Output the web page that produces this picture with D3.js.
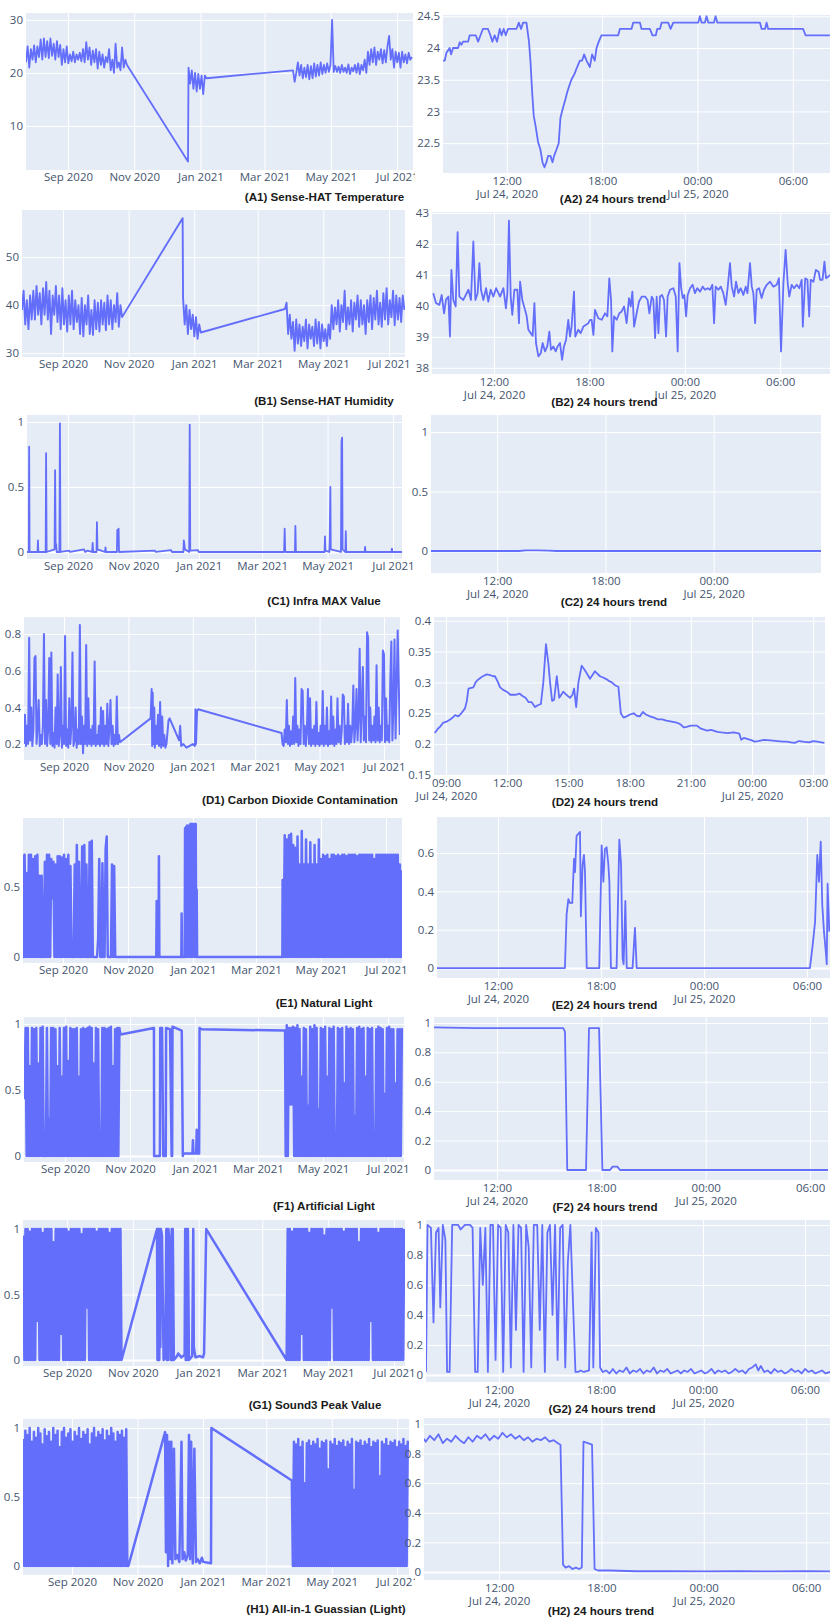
<!DOCTYPE html>
<html>
<head>
<meta charset="utf-8">
<title>Sensor trends</title>
<script src="https://cdn.jsdelivr.net/npm/d3@7"></script>
<style>
  body { margin: 0; background: #fff; }
  svg { display: block; }
</style>
</head>
<body>
<svg id="chart" width="830" height="1617"></svg>
<script>
// all times are counted from Jul 24 2020 00:00 (UTC): days for the long charts, hours for the 24h ones
const ORIGIN = Date.UTC(2020, 6, 24);
const DAY = 864e5, HOUR = 36e5;

const monthTicks = ["2020-09-01", "2020-11-01", "2021-01-01", "2021-03-01", "2021-05-01", "2021-07-01"];
const sixHourTicks = [12, 18, 24, 30];
const threeHourTicks = [9, 12, 15, 18, 21, 24, 27];

// (A1) temperature, every 1.5 days
const tempSummer = [22, 25, 21, 24.5, 22.5, 25.2, 22, 25, 23,
  26.3, 22.5, 26.5, 23, 26, 22.8, 26.5, 23.2, 25.5, 22.5, 26, 23, 25.3,
  21.5, 24.5, 22, 25, 21.8, 23.5, 22.2, 24, 22, 23.5, 22.5,
  23.8, 22.2, 24.5, 22, 25.8, 22.5, 24.8, 21.5, 24.2, 22,
  24.5, 20.8, 24, 21.5, 23.5, 21, 23, 22, 24.5,
  20.5, 22.5, 20, 25.5, 21, 22, 20.5, 24.8, 21, 22.5, 21.5];
const tempDrop = [[149.5, 3.3]];
const tempWinter = [21, 18, 20.5, 17, 20, 16.5, 19.8, 17, 19.5, 16, 19.5, 19];
const tempSpring = [20.5, 18.3, 20, 22, 19.5, 21.5, 19, 21, 19.2, 21.5, 18.8, 21.3, 19, 21.8, 19.3, 21.5,
  19.5, 22, 19.8, 21.5, 20, 21.8, 20.2, 21.5, 30, 20.2, 21.3, 20.2, 21.2, 20, 21.5, 20.2, 21, 20, 21.6,
  19.8, 21, 20.3, 21.5, 20, 21.8, 19.8, 21.5, 20.5, 22.5, 20, 24, 21.5, 24.5, 22, 24.8, 21.5, 24, 22.5,
  24.5, 21.8, 24.3, 22, 25, 27, 22.5, 24.5, 21, 24, 22, 23.8, 21, 24, 22, 23.5, 21.8, 23.8, 22.5, 23];

// (A2) temperature, 24 hours [hour, value]
const tempDay = [[7.99, 23.8], [8.1, 23.8], [8.2, 23.92], [8.41, 24.0], [8.5, 23.9], [8.62, 24.0], [8.94, 24.0],
  [9.04, 24.09], [9.15, 24.05], [9.25, 24.1], [9.57, 24.1], [9.67, 24.2], [10.05, 24.2], [10.2, 24.1], [10.35, 24.2],
  [10.5, 24.3], [10.82, 24.3], [10.97, 24.2], [11.1, 24.1], [11.24, 24.2], [11.39, 24.1], [11.56, 24.3], [11.68, 24.2],
  [11.81, 24.3], [11.94, 24.2], [12.08, 24.3], [12.61, 24.3], [12.76, 24.4], [12.9, 24.3], [13.03, 24.4], [13.24, 24.4],
  [13.4, 24.1], [13.49, 23.8], [13.6, 23.3], [13.7, 22.93], [13.83, 22.75], [13.97, 22.52], [14.12, 22.4], [14.25, 22.2],
  [14.37, 22.12], [14.5, 22.2], [14.6, 22.3], [14.75, 22.3], [14.88, 22.2], [14.98, 22.3], [15.13, 22.4], [15.27, 22.5],
  [15.38, 22.9], [15.48, 23.0], [15.59, 23.1], [15.7, 23.2], [15.8, 23.3], [15.93, 23.4], [16.07, 23.5], [16.28, 23.6],
  [16.43, 23.7], [16.6, 23.8], [16.74, 23.8], [16.87, 23.9], [17.02, 23.8], [17.23, 23.7], [17.37, 23.9], [17.54, 23.8],
  [17.65, 24.0], [17.79, 24.1], [17.96, 24.2], [19.01, 24.2], [19.12, 24.3], [19.85, 24.3], [19.96, 24.4], [20.38, 24.4],
  [20.48, 24.3], [21.01, 24.3], [21.17, 24.2], [21.38, 24.2], [21.47, 24.3], [21.64, 24.3], [21.75, 24.4], [22.16, 24.4],
  [22.31, 24.3], [22.48, 24.4], [24.05, 24.4], [24.15, 24.5], [24.26, 24.4], [24.47, 24.4], [24.57, 24.5], [24.68, 24.4],
  [25.04, 24.4], [25.14, 24.5], [25.25, 24.4], [27.93, 24.4], [28.04, 24.3], [28.25, 24.3], [28.35, 24.4], [28.45, 24.3],
  [30.65, 24.3], [30.8, 24.2], [32.33, 24.2]];

// (B1) humidity, every 1.5 days
const humSummer = [39, 43, 36, 41, 35, 42, 37,
  43, 37, 44, 38, 42.5, 36, 43.5, 38, 44.8, 37, 43, 34, 42, 38, 44, 36.5, 42,
  35, 43.5, 36, 41, 34.5, 42, 36, 43, 35, 41, 36.5, 40, 34,
  41.5, 33.5, 40, 36, 42, 34, 39, 33.8, 41, 35, 40.5,
  34.5, 41, 36, 40.5, 34.8, 42, 36, 41, 35, 40, 36.5, 42.5, 35.5, 40, 37.5];
const humPeak = [[150.2, 58.1]];
const humWinter = [41.5, 36, 40, 34, 39, 35, 38, 33.5, 37.5, 33, 36, 34.3];
const humSpring = [39.2, 40.5, 34, 38, 33,
  36.5, 30.5, 37, 32, 36, 31.5, 35.5, 32.5, 37, 31, 36, 33, 35.5, 31.5, 37, 32, 36.5, 31, 36, 32.5, 35,
  31.5, 36, 33,
  40, 35, 39.5, 36, 41, 34.5, 40, 36.5, 43, 35, 39.5, 36, 41, 34.5, 40.5, 37, 42, 35.5, 41, 36, 40, 34,
  41, 36.5, 42, 35, 41.5, 37, 43, 36, 40.5, 35.5, 42.5, 37, 43.5, 36, 41, 37.5, 43, 35.8, 42, 37, 41.5, 36.5, 42, 39];

// (B2) humidity, 24 hours
const humDay = [[8.18, 40.41], [8.35, 40.09], [8.56, 40.03], [8.71, 40.35], [8.86, 39.76], [8.98, 40.2], [9.13, 40.3],
  [9.23, 39.01], [9.32, 41.16], [9.44, 40.19], [9.59, 39.98], [9.71, 42.38], [9.82, 40.3], [10.07, 40.19], [10.39, 40.52],
  [10.55, 40.19], [10.7, 42.08], [10.83, 40.19], [10.97, 40.41], [11.08, 41.38], [11.18, 40.52], [11.33, 40.19],
  [11.5, 40.57], [11.64, 40.14], [11.79, 40.52], [11.96, 40.3], [12.13, 40.57], [12.38, 40.3], [12.59, 40.57],
  [12.75, 39.92], [12.84, 40.41], [12.94, 42.75], [13.05, 40.3], [13.15, 39.71], [13.28, 40.52], [13.47, 40.52],
  [13.57, 39.44], [13.64, 40.78], [13.78, 40.19], [13.95, 39.87], [14.05, 39.68], [14.16, 39.23], [14.31, 39.12],
  [14.43, 39.03], [14.54, 40.09], [14.64, 38.8], [14.79, 38.37], [14.94, 38.47], [15.06, 38.8], [15.21, 38.53],
  [15.35, 38.69], [15.48, 39.17], [15.58, 38.58], [15.73, 38.69], [15.88, 38.53], [16.0, 38.69], [16.15, 38.8],
  [16.28, 38.26], [16.4, 38.69], [16.53, 38.9], [16.67, 39.55], [16.78, 39.01], [16.88, 39.33], [17.03, 40.46],
  [17.11, 39.01], [17.3, 39.23], [17.45, 39.12], [17.62, 39.33], [17.79, 39.39], [17.93, 39.44], [18.04, 39.55],
  [18.14, 39.55], [18.25, 39.06], [18.35, 39.87], [18.56, 39.6], [18.77, 39.55], [18.98, 39.76], [19.13, 39.66],
  [19.25, 40.89], [19.36, 40.19], [19.44, 38.53], [19.55, 39.66], [19.72, 39.55], [19.88, 39.76], [20.03, 39.82],
  [20.18, 39.98], [20.34, 39.44], [20.49, 40.25], [20.6, 39.98], [20.7, 40.46], [20.81, 39.33], [20.97, 39.76],
  [21.12, 40.14], [21.29, 40.3], [21.5, 40.3], [21.66, 40.19], [21.77, 39.76], [21.92, 40.3], [22.02, 40.19],
  [22.13, 38.96], [22.23, 40.3], [22.34, 39.12], [22.44, 40.3], [22.57, 40.35], [22.69, 40.19], [22.82, 39.01],
  [22.92, 40.3], [23.07, 40.52], [23.28, 40.57], [23.43, 40.3], [23.55, 38.53], [23.66, 41.38], [23.77, 40.57],
  [23.87, 40.25], [23.97, 40.35], [24.08, 39.66], [24.18, 40.35], [24.33, 40.57], [24.49, 40.68], [24.64, 40.41],
  [24.78, 40.57], [24.96, 40.46], [25.12, 40.62], [25.27, 40.52], [25.44, 40.57], [25.58, 40.52], [25.73, 40.68],
  [25.84, 39.44], [25.94, 40.62], [26.11, 40.52], [26.26, 40.62], [26.42, 40.41], [26.57, 40.03], [26.7, 40.62],
  [26.84, 41.38], [26.95, 40.62], [27.1, 40.3], [27.22, 40.78], [27.37, 40.41], [27.51, 40.57], [27.68, 40.35],
  [27.83, 40.62], [27.94, 40.41], [28.1, 41.38], [28.21, 40.62], [28.31, 40.41], [28.42, 39.44], [28.52, 40.52],
  [28.67, 40.57], [28.83, 40.25], [28.98, 40.52], [29.15, 40.68], [29.36, 40.78], [29.57, 40.62], [29.78, 40.68],
  [29.92, 40.89], [30.05, 38.53], [30.2, 40.73], [30.34, 41.81], [30.47, 40.73], [30.57, 40.3], [30.72, 40.68],
  [30.87, 40.57], [31.04, 40.68], [31.2, 40.57], [31.35, 40.84], [31.42, 39.33], [31.57, 40.89], [31.71, 40.84],
  [31.82, 39.66], [31.92, 40.84], [32.09, 40.78], [32.24, 41.16], [32.41, 41.1], [32.51, 40.84], [32.66, 40.84],
  [32.78, 41.43], [32.88, 40.89], [33.03, 40.95], [33.14, 41.0]];

// (C1) infra max value [day, value]
const infraYear = [[0, 0], [2.5, 0], [2.8, 0.81], [3.2, 0], [10.6, 0], [11, 0.09], [11.4, 0], [18.2, 0], [18.6, 0.76],
  [19.1, 0], [26.5, 0.02], [27, 0.63], [27.5, 0.05], [28, 0.06], [28.5, 0], [31, 0], [31.5, 0.99], [32, 0], [40, 0.01],
  [41, 0], [54, 0.02], [55, 0], [57, 0.01], [61.5, 0], [62, 0.07], [62.5, 0], [65.6, 0], [66, 0.23], [66.5, 0.02],
  [70, 0.01], [73.5, 0], [74, 0.035], [74.5, 0], [84.6, 0], [85, 0.17], [85.8, 0.05], [86.2, 0.18], [86.6, 0],
  [120, 0.01], [121, 0], [135, 0.015], [136, 0], [146.6, 0], [147, 0.09], [147.5, 0.06], [148, 0.02], [152, 0],
  [152.5, 0.98], [153, 0.01], [160, 0.015], [161, 0], [240.5, 0], [241, 0.18], [241.5, 0.01], [242, 0], [250.6, 0],
  [251, 0.2], [251.5, 0], [278.2, 0], [278.6, 0.12], [279, 0.01], [282.6, 0], [283, 0.08], [283.6, 0.5], [284, 0.02],
  [293.5, 0], [294, 0.85], [294.6, 0.88], [295, 0.02], [297.6, 0], [298, 0.16], [298.4, 0], [315.6, 0], [316, 0.04],
  [316.4, 0], [340.6, 0], [341, 0.025], [341.4, 0], [350.4, 0]];
// (C2) infra, 24 hours
const infraDay = [[8.3, 0], [13.2, 0], [13.6, 0.006], [14.2, 0.005], [14.8, 0.003], [15.3, 0], [30, 0]];

// (D1) carbon dioxide, daily
const co2Summer = [0.2, 0.36, 0.19, 0.3, 0.2, 0.78, 0.22, 0.4, 0.19, 0.28,
  0.67, 0.68, 0.2, 0.3, 0.44, 0.19, 0.25, 0.2, 0.3, 0.8,
  0.2, 0.44, 0.19, 0.28, 0.67, 0.2, 0.7, 0.19, 0.26, 0.18,
  0.4, 0.2, 0.58, 0.19, 0.25, 0.62, 0.18, 0.3, 0.2, 0.79,
  0.19, 0.28, 0.18, 0.45, 0.2, 0.3, 0.7, 0.19, 0.22, 0.4,
  0.18, 0.28, 0.2, 0.85, 0.2, 0.35, 0.15, 0.3, 0.2, 0.74,
  0.19, 0.45, 0.2, 0.28, 0.19, 0.3, 0.2, 0.65, 0.19, 0.25,
  0.2, 0.3, 0.19, 0.4, 0.2, 0.38, 0.19, 0.3, 0.2, 0.42,
  0.19, 0.28, 0.44, 0.2, 0.3, 0.19, 0.25, 0.2, 0.46, 0.2,
  0.25, 0.21];
const co2Winter = [[121, 0.34], [122, 0.5], [122.5, 0.19], [123, 0.48], [123.5, 0.2], [124.5, 0.4], [125, 0.18],
  [126, 0.3], [127, 0.2], [128, 0.36], [129, 0.19], [130, 0.43], [131, 0.18], [132, 0.35], [133, 0.19], [134, 0.25],
  [135, 0.18], [136, 0.2], [138, 0.33], [139, 0.34], [148, 0.22], [149, 0.3], [150, 0.19], [152, 0.2], [155, 0.18],
  [158, 0.19], [161, 0.2], [163, 0.19], [163.5, 0.39], [164, 0.2], [165, 0.38], [166, 0.39]];
const co2Spring = [0.26, 0.2, 0.19, 0.28, 0.21, 0.44, 0.2, 0.3, 0.19, 0.27,
  0.2, 0.35, 0.2, 0.56, 0.21, 0.3, 0.19, 0.28, 0.2, 0.5,
  0.49, 0.2, 0.3, 0.19, 0.27, 0.5, 0.2, 0.45, 0.19, 0.28,
  0.2, 0.3, 0.19, 0.43, 0.2, 0.26, 0.19, 0.3, 0.2, 0.49,
  0.19, 0.3, 0.2, 0.4, 0.19, 0.27, 0.2, 0.46, 0.2, 0.35,
  0.19, 0.28, 0.2, 0.45, 0.21, 0.3, 0.2, 0.27, 0.47, 0.46,
  0.2, 0.3, 0.21, 0.42, 0.2, 0.3, 0.21, 0.29, 0.52, 0.21,
  0.3, 0.5, 0.22, 0.35, 0.72, 0.21, 0.4, 0.62, 0.22, 0.35,
  0.21, 0.81, 0.78, 0.22, 0.4, 0.21, 0.3, 0.22, 0.35, 0.21,
  0.63, 0.22, 0.4, 0.21, 0.3, 0.22, 0.71, 0.69, 0.21, 0.45,
  0.22, 0.3, 0.21, 0.55, 0.76, 0.22, 0.4, 0.77, 0.23, 0.5,
  0.82, 0.54, 0.25];
// (D2) carbon dioxide, 24 hours
const co2Day = [[8.45, 0.218], [8.6, 0.225], [8.7, 0.228], [8.87, 0.235], [9.0, 0.236], [9.2, 0.24], [9.36, 0.244],
  [9.45, 0.247], [9.6, 0.245], [9.75, 0.25], [9.93, 0.258], [10.02, 0.27], [10.1, 0.29], [10.34, 0.292], [10.45, 0.3],
  [10.55, 0.304], [10.8, 0.31], [11.0, 0.313], [11.16, 0.312], [11.3, 0.31], [11.4, 0.31], [11.55, 0.3], [11.65, 0.292],
  [11.8, 0.288], [11.98, 0.285], [12.15, 0.28], [12.4, 0.28], [12.6, 0.282], [12.75, 0.278], [12.9, 0.275],
  [13.05, 0.268], [13.2, 0.268], [13.36, 0.26], [13.5, 0.263], [13.65, 0.265], [13.77, 0.3], [13.9, 0.362],
  [14.02, 0.33], [14.1, 0.3], [14.2, 0.27], [14.3, 0.272], [14.43, 0.31], [14.55, 0.275], [14.75, 0.285], [14.9, 0.28],
  [15.08, 0.275], [15.2, 0.28], [15.28, 0.29], [15.38, 0.26], [15.49, 0.3], [15.65, 0.327], [15.8, 0.32],
  [16.06, 0.306], [16.3, 0.318], [16.55, 0.31], [16.7, 0.308], [16.88, 0.305], [17.0, 0.302], [17.13, 0.3],
  [17.3, 0.295], [17.45, 0.293], [17.57, 0.25], [17.7, 0.243], [17.85, 0.245], [18.02, 0.248], [18.2, 0.25],
  [18.35, 0.246], [18.5, 0.245], [18.65, 0.252], [18.8, 0.248], [19.0, 0.245], [19.2, 0.243], [19.4, 0.24],
  [19.6, 0.24], [19.8, 0.238], [20.0, 0.237], [20.3, 0.235], [20.5, 0.232], [20.65, 0.227], [20.8, 0.228], [21.0, 0.23],
  [21.3, 0.23], [21.5, 0.225], [21.8, 0.222], [22.0, 0.223], [22.3, 0.22], [22.5, 0.219], [22.8, 0.218], [23.1, 0.219],
  [23.38, 0.217], [23.47, 0.207], [23.6, 0.21], [23.8, 0.208], [24.0, 0.206], [24.13, 0.204], [24.3, 0.205],
  [24.6, 0.207], [24.9, 0.206], [25.26, 0.205], [25.5, 0.204], [25.7, 0.204], [25.9, 0.203], [26.1, 0.202],
  [26.3, 0.205], [26.5, 0.204], [26.8, 0.203], [27.0, 0.205], [27.2, 0.204], [27.4, 0.203], [27.55, 0.202]];

// (E1) natural light, daily
const naturalSummer = [0.73, 0, 0.73, 0, 0.6, 0, 0.73, 0, 0.73, 0,
  0.7, 0, 0.72, 0, 0.73, 0, 0.58, 0, 0.58, 0,
  0, 0.68, 0, 0.73, 0, 0.73, 0, 0.7, 0.42, 0.68,
  0, 0.66, 0, 0.72, 0, 0.72, 0, 0.71, 0, 0.73,
  0, 0.7, 0, 0.73, 0, 0.65, 0, 0, 0, 0.66,
  0, 0.8, 0, 0.68, 0, 0, 0.79, 0, 0.8, 0,
  0.66, 0, 0, 0.82, 0, 0.83, 0, 0, 0, 0,
  0, 0.13, 0.7, 0, 0, 0.67, 0, 0, 0.77, 0.86,
  0, 0, 0, 0, 0.66, 0, 0.65, 0];
const naturalWinter = [[126.5, 0], [126.9, 0.4], [127.3, 0], [128.6, 0], [129, 0.72], [129.4, 0], [150, 0],
  [150.3, 0.31], [150.7, 0], [153.2, 0], [153.5, 0.92], [154, 0], [154.5, 0.93], [155, 0.5], [155.5, 0.94], [156, 0],
  [156.5, 0.93], [157, 0.62], [157.5, 0.94], [158, 0], [158.5, 0.95], [159, 0.7], [159.5, 0.95], [160, 0],
  [160.5, 0.95], [161, 0.6], [161.5, 0.95], [162, 0], [162.5, 0.95], [163, 0.3], [163.5, 0.95], [164, 0],
  [164.4, 0.48], [164.8, 0], [243, 0], [244.8, 0]];
const naturalSpring = [0.55, 0, 0.87, 0, 0.84, 0, 0.87, 0, 0.88, 0,
  0.8, 0, 0.78, 0, 0.86, 0, 0.66, 0, 0.9, 0,
  0.66, 0, 0.84, 0, 0.66, 0, 0.82, 0, 0.66, 0,
  0.8, 0, 0.66, 0, 0.84, 0, 0.7, 0, 0.73, 0,
  0.72, 0, 0.73, 0, 0.7, 0, 0.73, 0, 0.73, 0,
  0.72, 0, 0.73, 0, 0.72, 0, 0.73, 0, 0.73, 0,
  0.72, 0, 0.73, 0, 0.73, 0, 0.73, 0, 0.73, 0,
  0.72, 0, 0.73, 0, 0.73, 0, 0.73, 0, 0.73, 0,
  0.73, 0, 0.73, 0, 0.73, 0, 0.7, 0, 0.73, 0,
  0.73, 0, 0.73, 0, 0.73, 0, 0.73, 0, 0.73, 0,
  0.73, 0, 0.73, 0, 0.73, 0, 0.73, 0, 0.73, 0,
  0.66, 0, 0.62];
// (E2) natural light, 24 hours
const naturalDay = [[8.45, 0], [15.9, 0], [16.0, 0.28], [16.1, 0.36], [16.19, 0.34], [16.33, 0.34], [16.43, 0.57],
  [16.49, 0.5], [16.58, 0.69], [16.68, 0.7], [16.78, 0.71], [16.83, 0.27], [16.93, 0.54], [17.01, 0.59], [17.07, 0.5],
  [17.17, 0], [17.9, 0], [18.04, 0.64], [18.14, 0.45], [18.23, 0.62], [18.33, 0.63], [18.43, 0.54], [18.49, 0.45],
  [18.58, 0], [18.91, 0], [19.07, 0.67], [19.17, 0.54], [19.26, 0.05], [19.32, 0.02], [19.42, 0.35], [19.5, 0],
  [19.84, 0], [19.98, 0.21], [20.08, 0], [30.17, 0], [30.33, 0.12], [30.47, 0.24], [30.6, 0.59], [30.7, 0.45],
  [30.8, 0.66], [30.89, 0.33], [30.99, 0.19], [31.09, 0.09], [31.15, 0.02], [31.2, 0.44], [31.3, 0.19]];

// (F1) artificial light, daily
const artSummer = [0.43, 0.97, 0, 0.97, 0, 0.68, 0, 0.97, 0, 0.96,
  0, 0.97, 0, 0.7, 0, 0.97, 0, 0.98, 0, 0,
  0, 0.97, 0, 0.28, 0, 0.97, 0, 0.97, 0, 0.96,
  0, 0.68, 0, 0.97, 0, 0.6, 0, 0.97, 0, 0.98,
  0, 0.72, 0, 0.97, 0, 0.96, 0, 0.96, 0, 0.97,
  0, 0.6, 0, 0.96, 0, 0.97, 0, 0.96, 0, 0.97,
  0, 0.98, 0, 0.97, 0, 0.7, 0, 0.97, 0, 0.96,
  0, 0.18, 0, 0.97, 0, 0.97, 0, 0.96, 0, 0.97,
  0, 0.98, 0, 0.68, 0, 0.96, 0, 0.97, 0, 0.97,
  0.92];
const artWinter = [[122.4, 0.97], [122.6, 0], [128, 0], [128.3, 0.97], [130, 0.97], [131.2, 0], [133.5, 0],
  [133.8, 0.97], [137.5, 0.96], [139, 0], [139.5, 0], [139.8, 0.98], [148.5, 0.95], [149.5, 0], [150, 0.02],
  [158.5, 0.02], [159, 0.12], [159.5, 0.02], [162, 0.02], [162.5, 0.2], [163, 0.02], [164.8, 0.02], [165.2, 0.97],
  [167.2, 0.96], [245.4, 0.95]];
const artSpring = [0, 0.99, 0, 0.97, 0.39, 0.97, 0.39, 0.98, 0, 0.97,
  0, 0.99, 0, 0.96, 0, 0.6, 0, 0.97, 0, 0.96,
  0, 0.38, 0, 0.98, 0, 0.96, 0, 0.99, 0, 0.97,
  0, 0.35, 0, 0.97, 0, 0.96, 0, 0.98, 0, 0.6,
  0, 0.97, 0, 0.96, 0, 0.98, 0, 0.1, 0, 0.97,
  0, 0.96, 0, 0.97, 0, 0.55, 0, 0.98, 0, 0.96,
  0, 0.97, 0, 0.96, 0, 0.3, 0, 0.97, 0, 0.98,
  0, 0.96, 0, 0.97, 0, 0.6, 0, 0.97, 0, 0.96,
  0, 0.97, 0, 0.15, 0, 0.96, 0, 0.98, 0, 0.97,
  0, 0.96, 0, 0.47, 0, 0.97, 0, 0.98, 0, 0.96,
  0, 0.96, 0, 0.55, 0, 0.96, 0, 0.96, 0, 0.96,
  0.96];
// (F2) artificial light, 24 hours
const artDay = [[8.38, 0.97], [10.83, 0.964], [15.81, 0.964], [15.91, 0.94], [16.04, 0], [17.12, 0], [17.29, 0.964],
  [17.87, 0.964], [18.06, 0], [18.5, 0], [18.65, 0.023], [18.92, 0.023], [19.07, 0], [31.03, 0]];

// (G1) sound peak, daily
const soundSummer = [0.95, 0, 1, 0, 1, 0, 0.98, 0, 1, 0,
  1, 0, 1, 0.3, 1, 0, 1, 0, 0.97, 0,
  1, 0, 1, 0, 1, 0, 1, 0, 0.9, 0,
  1, 0, 1, 0, 1, 0.2, 1, 0, 1, 0,
  1, 0, 0.98, 0, 1, 0, 1, 0, 1, 0,
  1, 0, 1, 0, 0.96, 0, 1, 0, 1, 0.4,
  1, 0, 1, 0, 1, 0, 1, 0, 0.98, 0,
  1, 0, 1, 0, 1, 0, 1, 0, 1, 0,
  0.97, 0, 1, 0, 1, 0, 1, 0, 1, 0,
  1, 0];
const soundWinter = [[122.4, 1], [122.8, 0], [123.2, 1], [123.6, 0], [124, 1], [124.5, 0], [125, 1], [125.5, 0.1],
  [126, 1], [127, 0.95], [128.5, 0], [130, 0.02], [131, 1], [131.5, 0], [132, 1], [132.5, 0], [133, 1], [134, 0.9],
  [135, 0], [136, 1], [136.5, 0], [137, 1], [138, 0], [141, 0.03], [142, 0.05], [145, 0.02], [148, 0.04], [148.5, 1],
  [149, 0], [149.5, 1], [150, 0], [151, 1], [152, 0], [154, 0.02], [155, 0.03], [156, 1], [156.5, 0.1], [158, 0.02],
  [162, 0.03], [165, 0.02], [166, 0.05], [168, 1]];
const soundSpring = [0, 1, 0, 1, 0, 0.98, 0, 1, 0, 1,
  0, 1, 0, 1, 0.2, 1, 0, 1, 0, 1,
  0, 0.97, 0, 1, 0, 1, 0, 1, 0, 1,
  0, 1, 0, 1, 0, 0.95, 0, 1, 0, 1,
  0, 1, 0.4, 1, 0, 1, 0, 1, 0, 1,
  0, 1, 0, 0.98, 0, 1, 0, 1, 0, 1,
  0, 1, 0, 1, 0, 1, 0, 0.9, 0, 1,
  0, 1, 0, 1, 0, 1, 0, 1, 0.3, 1,
  0, 1, 0, 1, 0, 0.97, 0, 1, 0, 1,
  0, 1, 0, 1, 0, 1, 0, 1, 0, 1,
  0, 1, 0, 1, 0, 1, 0, 1, 0, 1];
// (G2) sound peak, 24 hours
const soundDay = [[7.71, 0.02], [7.8, 1], [8.0, 0.98], [8.15, 0.35], [8.3, 0.95], [8.45, 0.98], [8.55, 0.45], [8.7, 1],
  [8.85, 0.9], [8.95, 0.02], [9.1, 0.02], [9.25, 1], [9.6, 1], [9.75, 0.97], [10.0, 1], [10.3, 1], [10.45, 0.98],
  [10.6, 0.02], [10.75, 0.02], [10.9, 0.98], [11.05, 0.6], [11.2, 0.98], [11.35, 0.02], [11.5, 1], [11.65, 1],
  [11.8, 0.1], [11.95, 1], [12.1, 0.98], [12.25, 0.02], [12.4, 1], [12.55, 0.95], [12.7, 0.05], [12.85, 1], [13.0, 0.3],
  [13.15, 1], [13.3, 0.98], [13.45, 0.02], [13.6, 1], [13.75, 0.85], [13.9, 0.05], [14.05, 1], [14.25, 1], [14.4, 0.3],
  [14.55, 1], [14.7, 0.02], [14.85, 0.95], [15.0, 1], [15.15, 0.4], [15.3, 1], [15.45, 0.1], [15.6, 0.98], [15.75, 1],
  [15.9, 0.05], [16.05, 0.75], [16.2, 1], [16.35, 0.5], [16.5, 0.02], [16.65, 0.02], [16.8, 0.03], [17.0, 0.02],
  [17.3, 0.03], [17.45, 0.95], [17.55, 0.05], [17.7, 0.98], [17.85, 0.95], [17.95, 0.05], [18.1, 0.02], [18.3, 0.03],
  [18.5, 0.01], [18.7, 0.04], [18.9, 0.01], [19.1, 0.03], [19.3, 0.02], [19.5, 0.05], [19.7, 0.01], [19.9, 0.03],
  [20.1, 0.02], [20.3, 0.04], [20.5, 0.01], [20.7, 0.03], [20.9, 0.02], [21.1, 0.05], [21.3, 0.01], [21.5, 0.03],
  [21.7, 0.02], [21.9, 0.04], [22.1, 0.01], [22.3, 0.02], [22.5, 0.03], [22.7, 0.01], [22.9, 0.03], [23.1, 0.02],
  [23.3, 0.04], [23.5, 0.01], [23.7, 0.02], [23.9, 0.03], [24.1, 0.01], [24.3, 0.02], [24.5, 0.04], [24.7, 0.01],
  [24.9, 0.03], [25.1, 0.02], [25.3, 0.03], [25.5, 0.01], [25.7, 0.02], [25.9, 0.04], [26.1, 0.02], [26.3, 0.03],
  [26.5, 0.01], [26.7, 0.04], [26.9, 0.05], [27.1, 0.07], [27.25, 0.03], [27.4, 0.06], [27.6, 0.02], [27.8, 0.03],
  [28.0, 0.01], [28.2, 0.04], [28.4, 0.02], [28.6, 0.03], [28.8, 0.01], [29.0, 0.02], [29.2, 0.04], [29.4, 0.02],
  [29.6, 0.03], [29.8, 0.01], [30.0, 0.04], [30.2, 0.02], [30.4, 0.03], [30.6, 0.01], [30.8, 0.02], [31.0, 0.03],
  [31.2, 0.01], [31.47, 0.02]];

// (H1) all-in-1 gaussian (light), daily
const gaussSummer = [0.92, 0, 0.98, 0, 0.95, 0, 1, 0, 0.9, 0,
  0.97, 0, 0.93, 0, 1, 0, 0.96, 0, 0.88, 0,
  0.99, 0, 0.94, 0, 0.97, 0, 0.9, 0, 1, 0,
  0.95, 0, 0.98, 0, 0.86, 0, 0.97, 0, 1, 0,
  0.93, 0, 0.96, 0, 0.99, 0, 0.9, 0, 0.97, 0,
  0.94, 0, 1, 0, 0.92, 0, 0.97, 0, 0.95, 0,
  0.99, 0, 0.88, 0, 0.96, 0, 1, 0, 0.93, 0,
  0.97, 0, 0.95, 0, 0.99, 0, 0.91, 0, 0.98, 0,
  0.94, 0, 1, 0, 0.96, 0, 0.9, 0, 0.97, 0,
  0.95, 0, 0.98, 0, 0.93, 0, 0.99, 0, 0];
const gaussWinter = [[125.7, 0.97], [126.5, 0.1], [127.5, 0.95], [128.5, 0], [129.5, 0.9], [130.4, 0.05], [131.5, 0.9],
  [132.5, 0.02], [134, 0.85], [135.3, 0.05], [137, 0.08], [139, 0.03], [141, 0.9], [142, 0.05], [143.5, 0.1],
  [145, 0.04], [146.8, 0.08], [148, 0.95], [149, 0.05], [150, 0.9], [151.5, 0.02], [153, 0.85], [154.5, 0.03],
  [156, 0.05], [158, 0.02], [160, 0.06], [161.2, 0.03], [168.5, 0.02], [168.9, 1.0]];
const gaussSpring = [0.62, 0, 0.9, 0, 0.88, 0, 0.92, 0, 0.86, 0,
  0.9, 0, 0.6, 0, 0.89, 0, 0.91, 0, 0.87, 0,
  0.9, 0, 0.88, 0, 0.92, 0, 0.85, 0, 0.9, 0,
  0.89, 0, 0.91, 0, 0.7, 0, 0.9, 0, 0.88, 0,
  0.92, 0, 0.87, 0, 0.9, 0, 0.89, 0, 0.91, 0,
  0.86, 0, 0.9, 0, 0.88, 0, 0.92, 0, 0.55, 0,
  0.9, 0, 0.89, 0, 0.91, 0, 0.87, 0, 0.9, 0,
  0.88, 0, 0.92, 0, 0.86, 0, 0.9, 0, 0.89, 0,
  0.91, 0, 0.65, 0, 0.9, 0, 0.88, 0, 0.92, 0,
  0.87, 0, 0.9, 0, 0.89, 0, 0.91, 0, 0.86, 0,
  0.9, 0, 0.88, 0, 0.92, 0, 0.87, 0, 0.9, 0.88];
// (H2) gaussian, 24 hours
const gaussDay = [[7.6, 0.9], [7.7, 0.88], [7.95, 0.92], [8.2, 0.89], [8.45, 0.93], [8.7, 0.87], [8.95, 0.9], [9.2, 0.88],
  [9.45, 0.92], [9.7, 0.89], [9.95, 0.87], [10.2, 0.91], [10.45, 0.88], [10.7, 0.92], [10.95, 0.9], [11.2, 0.93],
  [11.45, 0.89], [11.7, 0.92], [11.95, 0.9], [12.2, 0.94], [12.45, 0.91], [12.7, 0.93], [12.95, 0.9], [13.2, 0.92],
  [13.45, 0.89], [13.7, 0.91], [13.95, 0.88], [14.2, 0.9], [14.45, 0.89], [14.7, 0.91], [14.95, 0.88], [15.2, 0.89],
  [15.45, 0.87], [15.6, 0.86], [15.75, 0.05], [15.9, 0.03], [16.1, 0.04], [16.3, 0.02], [16.5, 0.03], [16.7, 0.02],
  [16.85, 0.03], [16.95, 0.88], [17.2, 0.87], [17.45, 0.86], [17.6, 0.02], [17.8, 0.01], [18.5, 0.01], [20, 0.005],
  [22, 0.005], [24, 0.004], [26, 0.005], [28, 0.004], [30, 0.005], [31.45, 0.004]];

// ---- helpers ----
function run(start, step, values) {
  return values.map((v, i) => ({ t: new Date(ORIGIN + (start + i * step) * DAY), v: v }));
}
function dayPairs(pairs) {
  return pairs.map(p => ({ t: new Date(ORIGIN + p[0] * DAY), v: p[1] }));
}
function hourPairs(pairs) {
  return pairs.map(p => ({ t: new Date(ORIGIN + p[0] * HOUR), v: p[1] }));
}

// box = [left, right, top, bottom] of the plot area; lw = trace width
const panels = [
  { id: "A1", box: [26, 413, 13, 170], xd: [0.33, 356.7], yd: [1.7, 31.3], yt: [10, 20, 30], lw: 1.8,
    data: [].concat(run(0.33, 1.5, tempSummer), dayPairs(tempDrop), run(150, 1.5, tempWinter), run(246.2, 1.5, tempSpring)),
    title: "(A1) Sense-HAT Temperature", tc: [324.5, 196] },
  { id: "A2", box: [443, 830, 15, 173], xh: [7.99, 32.34], yd: [22.03, 24.52], yt: [22.5, 23, 23.5, 24, 24.5], lw: 1.8,
    hticks: sixHourTicks, dateAt: [12, 24], data: hourPairs(tempDay), title: "(A2) 24 hours trend", tc: [613, 198] },
  { id: "B1", box: [22, 405, 210, 357], xd: [0.9, 356.9], yd: [29.2, 59.8], yt: [30, 40, 50], lw: 1.9,
    data: [].concat(run(0.9, 1.5, humSummer), dayPairs(humPeak), run(150.6, 1.5, humWinter), run(245.3, 1.5, humSpring)),
    title: "(B1) Sense-HAT Humidity", tc: [324, 400] },
  { id: "B2", box: [432, 830, 212, 374], xh: [8.1, 33.13], yd: [37.8, 43.03], yt: [38, 39, 40, 41, 42, 43], lw: 1.8,
    hticks: sixHourTicks, dateAt: [12, 24], data: hourPairs(humDay), title: "(B2) 24 hours trend", tc: [604.5, 401.5] },
  { id: "C1", box: [27, 402, 415, 559], xd: [0.8, 350.4], yd: [-0.054, 1.054], yt: [0, 0.5, 1], lw: 1.8,
    data: dayPairs(infraYear), title: "(C1) Infra MAX Value", tc: [324, 600] },
  { id: "C2", box: [431, 821, 415, 573], xh: [8.33, 29.95], yd: [-0.185, 1.143], yt: [0, 0.5, 1], lw: 1.8,
    hticks: [12, 18, 24], dateAt: [12, 24], data: hourPairs(infraDay), title: "(C2) 24 hours trend", tc: [614, 601.5] },
  { id: "D1", box: [24, 400, 617, 760], xd: [1.1, 357.2], yd: [0.113, 0.893], yt: [0.2, 0.4, 0.6, 0.8], lw: 2,
    data: [].concat(run(1, 1, co2Summer), dayPairs(co2Winter), run(245, 1, co2Spring)),
    title: "(D1) Carbon Dioxide Contamination", tc: [300, 799.5] },
  { id: "D2", box: [434, 825, 617, 775], xh: [8.41, 27.58], yd: [0.15, 0.406], yt: [0.15, 0.2, 0.25, 0.3, 0.35, 0.4], lw: 1.8,
    hticks: threeHourTicks, dateAt: [9, 24], data: hourPairs(co2Day), title: "(D2) 24 hours trend", tc: [605, 801.5] },
  { id: "E1", box: [23, 402, 818, 963], xd: [1.5, 357], yd: [-0.043, 0.993], yt: [0, 0.5], lw: 2.5,
    data: [].concat(run(1, 1, naturalSummer), dayPairs(naturalWinter), run(245, 1, naturalSpring)),
    title: "(E1) Natural Light", tc: [324, 1002.5] },
  { id: "E2", box: [437, 830, 817, 978], xh: [8.45, 31.34], yd: [-0.052, 0.788], yt: [0, 0.2, 0.4, 0.6], lw: 1.8,
    hticks: sixHourTicks, dateAt: [12, 24], data: hourPairs(naturalDay), title: "(E2) 24 hours trend", tc: [604.5, 1004] },
  { id: "F1", box: [24, 404, 1017, 1162], xd: [0.5, 357], yd: [-0.045, 1.053], yt: [0, 0.5, 1], lw: 2.5,
    data: [].concat(run(1, 1, artSummer), dayPairs(artWinter), run(246, 1, artSpring)),
    title: "(F1) Artificial Light", tc: [324, 1205] },
  { id: "F2", box: [434, 828, 1017, 1180], xh: [8.38, 31.03], yd: [-0.068, 1.04], yt: [0, 0.2, 0.4, 0.6, 0.8, 1], lw: 1.8,
    hticks: sixHourTicks, dateAt: [12, 24], data: hourPairs(artDay), title: "(F2) 24 hours trend", tc: [605, 1206] },
  { id: "G1", box: [23, 405, 1220, 1366], xd: [-1.8, 352.2], yd: [-0.046, 1.069], yt: [0, 0.5, 1], lw: 2.5,
    data: [].concat(run(-1.5, 1, soundSummer), dayPairs(soundWinter), run(242.5, 1, soundSpring)),
    title: "(G1) Sound3 Peak Value", tc: [315, 1404] },
  { id: "G2", box: [426, 830, 1220, 1382], xh: [7.71, 31.47], yd: [-0.047, 1.033], yt: [0, 0.2, 0.4, 0.6, 0.8, 1], lw: 1.8,
    hticks: sixHourTicks, dateAt: [12, 24], data: hourPairs(soundDay), title: "(G2) 24 hours trend", tc: [602, 1408] },
  { id: "H1", box: [23, 409, 1419, 1575], xd: [-6.7, 353], yd: [-0.065, 1.065], yt: [0, 0.5, 1], lw: 2.5,
    data: [].concat(run(-6.5, 1, gaussSummer), dayPairs(gaussWinter), run(243.8, 1, gaussSpring)),
    title: "(H1) All-in-1 Guassian (Light)", tc: [326, 1608] },
  { id: "H2", box: [424, 830, 1418, 1580], xh: [7.6, 31.4], yd: [-0.054, 1.04], yt: [0, 0.2, 0.4, 0.6, 0.8, 1], lw: 1.8,
    hticks: sixHourTicks, dateAt: [12, 24], data: hourPairs(gaussDay), title: "(H2) 24 hours trend", tc: [601, 1610] }
];

// ---- drawing ----
const svg = d3.select("#chart");
const defs = svg.append("defs");
const TICK = "#44546e";
const LINE = "#636efa";
const fmtMonth = d3.utcFormat("%b %Y"), fmtTime = d3.utcFormat("%H:%M"), fmtDate = d3.utcFormat("%b %d, %Y");
const fmtNum = d3.format("~g");

panels.forEach(p => {
  const [x0, x1, y0, y1] = p.box;
  const isLeft = !!p.xd;

  // each screenshot cell is cut near the middle of the page
  defs.append("clipPath").attr("id", "cell-" + p.id).append("rect")
    .attr("x", isLeft ? 0 : 404).attr("y", 0).attr("width", isLeft ? 415 : 426).attr("height", 1617);
  defs.append("clipPath").attr("id", "plot-" + p.id).append("rect")
    .attr("x", x0).attr("y", y0 - 1).attr("width", x1 - x0).attr("height", y1 - y0 + 2);

  const g = svg.append("g").attr("clip-path", `url(#cell-${p.id})`);

  const x = d3.scaleUtc()
    .domain(isLeft ? p.xd.map(d => new Date(ORIGIN + d * DAY)) : p.xh.map(h => new Date(ORIGIN + h * HOUR)))
    .range([x0, x1]);
  const y = d3.scaleLinear().domain(p.yd).range([y1, y0]);

  g.append("rect").attr("x", x0).attr("y", y0).attr("width", x1 - x0).attr("height", y1 - y0).attr("fill", "#e5ecf6");

  // x axis with vertical grid
  const xTickVals = isLeft ? monthTicks.map(s => new Date(s + "T00:00:00Z")) : p.hticks.map(h => new Date(ORIGIN + h * HOUR));
  const xAxis = d3.axisBottom(x)
    .tickValues(xTickVals)
    .tickFormat(isLeft ? fmtMonth : fmtTime)
    .tickSize(-(y1 - y0))
    .tickPadding(isLeft ? 3 : 4);
  const gx = g.append("g").attr("transform", `translate(0,${y1})`).call(xAxis);
  gx.select(".domain").remove();
  gx.selectAll(".tick line").attr("stroke", "#fff").attr("stroke-width", 1);
  gx.selectAll(".tick text")
    .attr("fill", TICK)
    .style("font-family", "'Open Sans', sans-serif")
    .style("font-size", "11.5px");
  if (!isLeft) {
    gx.selectAll(".tick text").each(function (d) {
      const h = Math.round((d - ORIGIN) / HOUR);
      if (p.dateAt.includes(h)) {
        d3.select(this).append("tspan").attr("x", 0).attr("dy", "1.15em").text(fmtDate(d));
      }
    });
  }

  // y axis with horizontal grid
  const yAxis = d3.axisLeft(y)
    .tickValues(p.yt)
    .tickFormat(fmtNum)
    .tickSize(-(x1 - x0))
    .tickPadding(3);
  const gy = g.append("g").attr("transform", `translate(${x0},0)`).call(yAxis);
  gy.select(".domain").remove();
  gy.selectAll(".tick line").attr("stroke", "#fff").attr("stroke-width", d => d === 0 ? 2 : 1);
  gy.selectAll(".tick text")
    .attr("fill", TICK)
    .style("font-family", "'Open Sans', sans-serif")
    .style("font-size", "11.5px");

  // trace
  const line = d3.line().x(d => x(d.t)).y(d => y(d.v));
  g.append("path")
    .datum(p.data)
    .attr("clip-path", `url(#plot-${p.id})`)
    .attr("fill", "none")
    .attr("stroke", LINE)
    .attr("stroke-width", p.lw)
    .attr("stroke-linejoin", "round")
    .attr("d", line);

  // caption under the panel
  svg.append("text")
    .attr("x", p.tc[0])
    .attr("y", p.tc[1])
    .attr("text-anchor", "middle")
    .attr("dominant-baseline", "central")
    .attr("fill", "#1a1a1a")
    .style("font-family", "'Liberation Sans', Arial, sans-serif")
    .style("font-weight", "bold")
    .style("font-size", "11.6px")
    .text(p.title);
});
</script>
</body>
</html>
